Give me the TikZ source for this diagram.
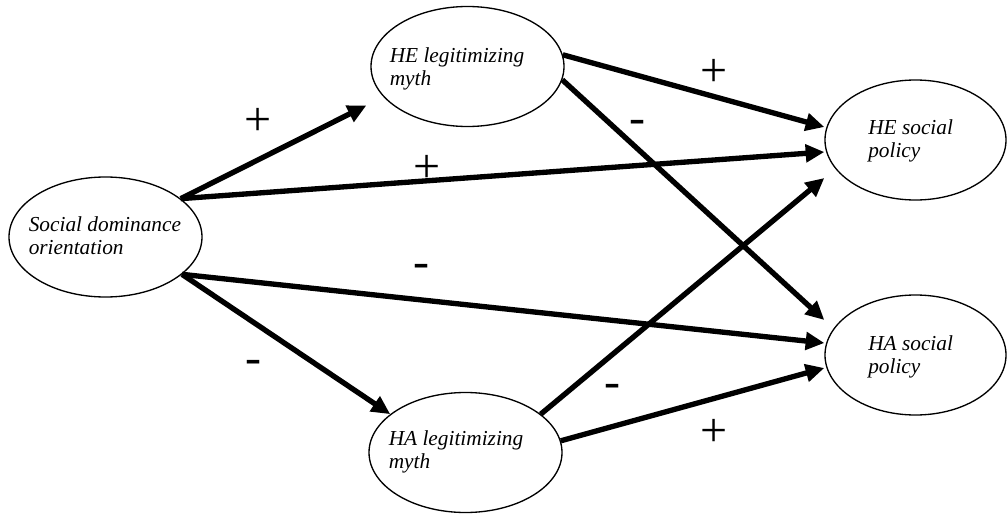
\documentclass[tikz,border=0pt]{standalone}
\usepackage{fontspec}
\setmainfont{Liberation Serif}
\usetikzlibrary{arrows.meta, calc, shapes.geometric}

\begin{document}
\begin{tikzpicture}[x=0.75pt, y=-0.75pt,
    oval/.style={draw, ellipse, line width=1pt, minimum width=144.75pt,
      minimum height=90pt, inner sep=0pt},
    poloval/.style={oval, minimum width=135.75pt},
    arr/.style={line width=4pt, -{Triangle[length=14pt, width=13pt]}},
    lbl/.style={font=\itshape\fontsize{16}{17}\selectfont, align=left,
      anchor=base west, inner sep=0pt},
    sign/.style={font=\fontsize{36}{40}\selectfont, inner sep=0pt}]

      \useasboundingbox (0,0) rectangle (1008,514);

      % ellipses
      \node[oval] (sdo) at (105.5,237) {};
      \node[oval] (hem) at (467.5,66.5) {};
      \node[oval] (ham) at (465.5,452.5) {};
      \node[poloval] (hep) at (915.5,140) {};
      \node[poloval] (hap) at (915.5,355) {};

      % base of each text is its second line
      \node[lbl] (sdo-t) at ($(sdo)+(-77,17)$) {Social dominance\\orientation};
      \node[lbl] (hem-t) at ($(hem)+(-78,18.5)$) {HE legitimizing\\myth};
      \node[lbl] (ham-t) at ($(ham)+(-77,15.5)$) {HA legitimizing\\myth};
      \node[lbl] (hep-t) at ($(hep)+(-47.5,17)$) {HE social\\policy};
      \node[lbl] (hap-t) at ($(hap)+(-47.5,18)$) {HA social\\policy};

      % paths
      \draw[arr] (sdo.27) -- ($(hem.west)+(-4,39)$);
      \draw[arr] (sdo.27) -- ($(hep.west)+(0,12)$);
      \draw[arr] (sdo.-26) -- ($(hap.west)+(0,-12)$);
      \draw[arr] (sdo.-26) -- (ham.153);

      \draw[arr] (hem.7) -- ($(hep.west)+(0,-13)$);
      \draw[arr] (hem.-8) -- ($(hap.west)+(0,-35)$);
      \draw[arr] (ham.27) -- ($(hep.west)+(0,38)$);
      \draw[arr] (ham.7) -- ($(hap.west)+(0,13)$);

      % signs
      \node[sign] (s-sdo-hem) at (258,122) {+};
      \node[sign] (s-sdo-hep) at (427,169) {+};
      \node[sign] (s-sdo-hap) at (421,271) {-};
      \node[sign] (s-sdo-ham) at (253,367) {-};
      \node[sign] (s-hem-hep) at (714,73) {+};
      \node[sign] (s-hem-hap) at (637,127) {-};
      \node[sign] (s-ham-hep) at (612,391) {-};
      \node[sign] (s-ham-hap) at (714,433) {+};
    \end{tikzpicture}
\end{document}
